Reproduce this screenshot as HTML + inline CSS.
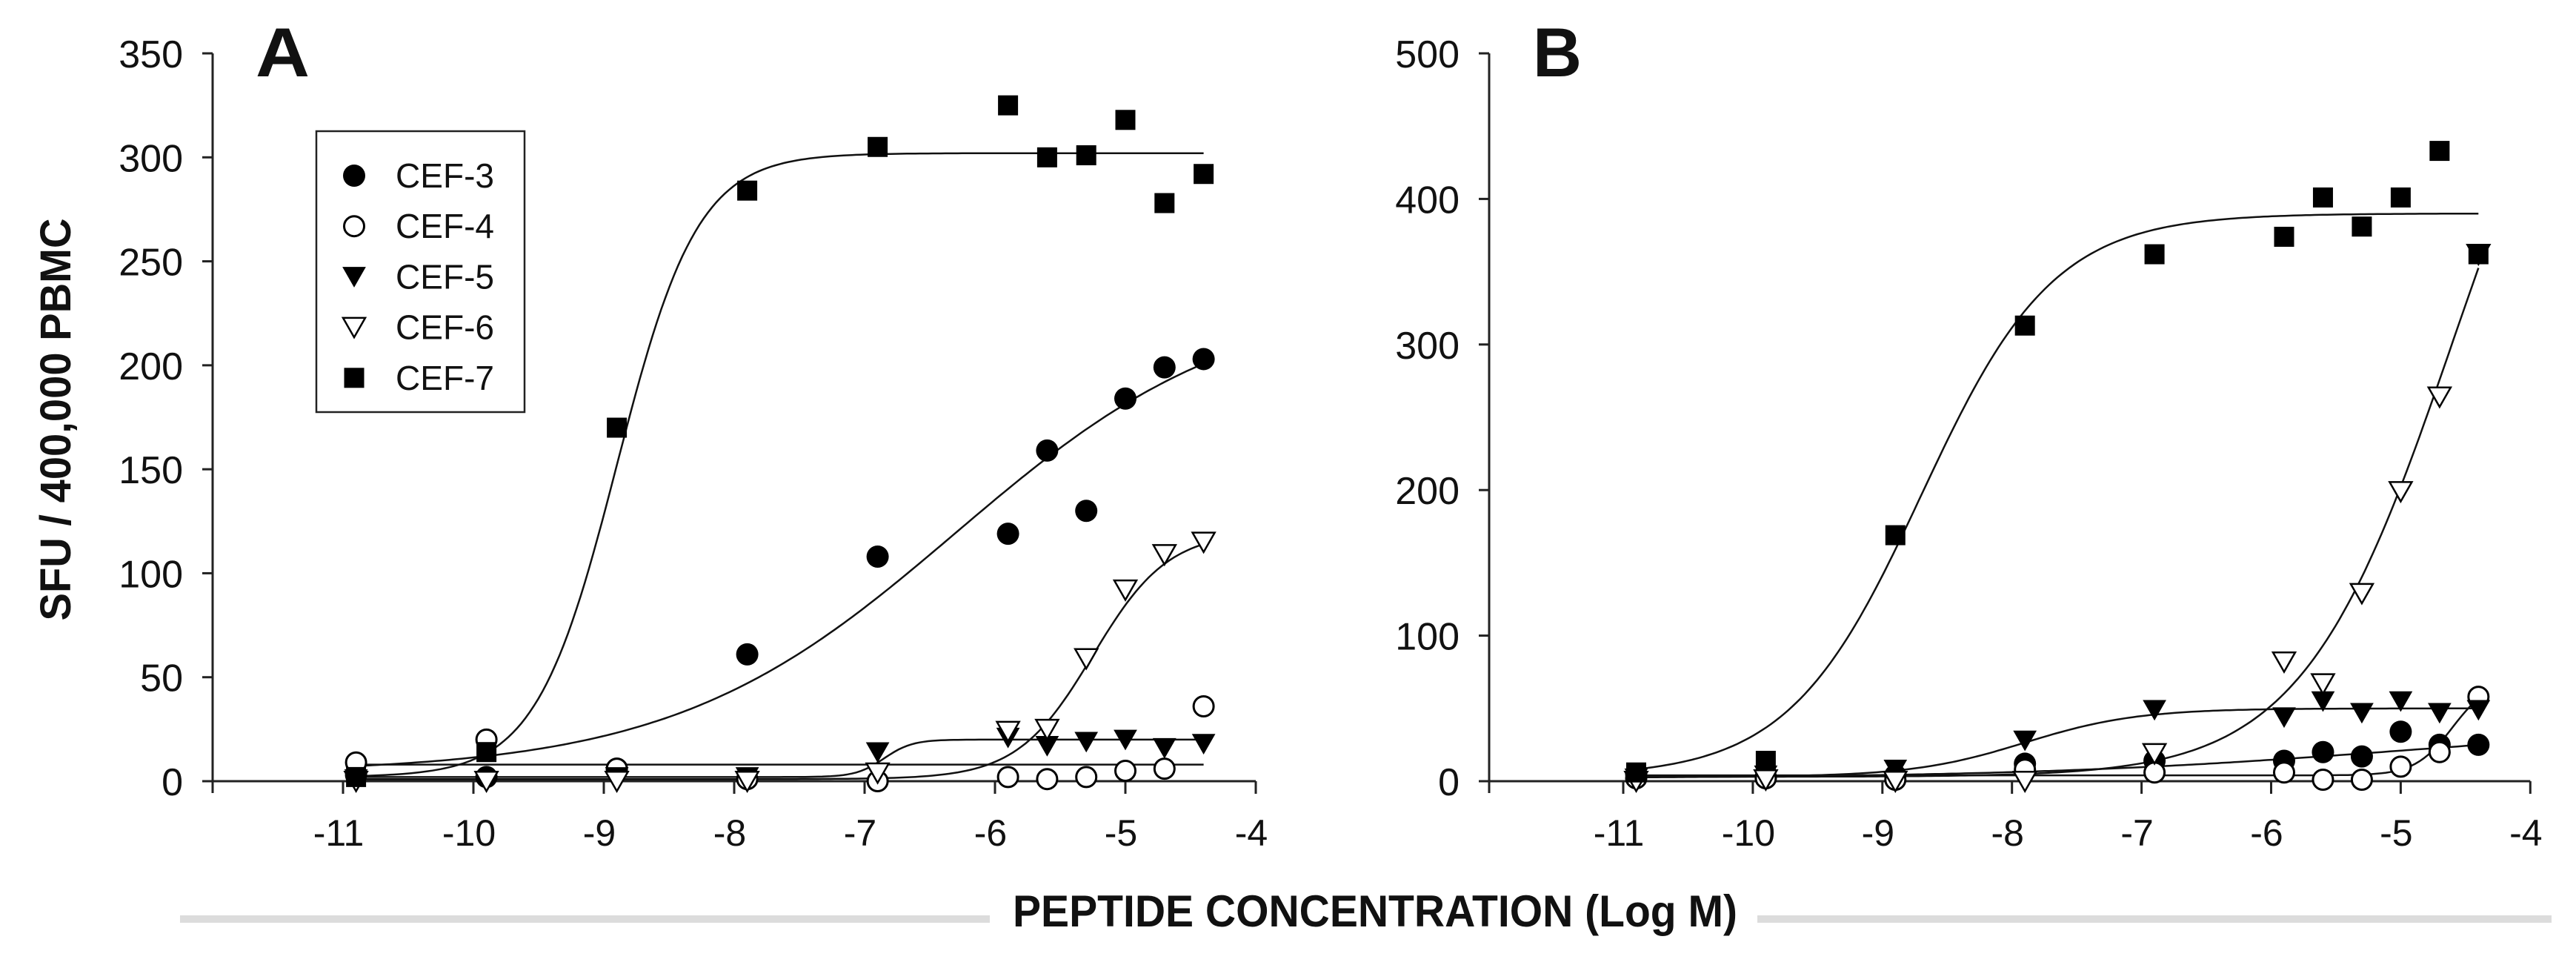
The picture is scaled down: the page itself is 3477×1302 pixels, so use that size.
<!DOCTYPE html>
<html><head><meta charset="utf-8"><style>
html,body{margin:0;padding:0;background:#fff;}
svg{display:block;}
text{font-family:"Liberation Sans",Arial,sans-serif;fill:#111;}
</style></head><body>
<svg id="chart" width="3477" height="1302" viewBox="0 0 3477 1302" xmlns="http://www.w3.org/2000/svg">
<g id="root"></g>
</svg>
<script>
// ---- shared data ----
const logConc = [-10.9, -9.9, -8.9, -7.9, -6.9, -5.9, -5.6, -5.3, -5.0, -4.7, -4.4];
const seriesNames = ["CEF-3", "CEF-4", "CEF-5", "CEF-6", "CEF-7"];
const xTicks = [-11, -10, -9, -8, -7, -6, -5, -4];
// Panel A values
const aCef3 = [3, 2, 6, 61, 108, 119, 159, 130, 184, 199, 203];
const aCef4 = [9, 20, 6, 1, 0, 2, 1, 2, 5, 6, 36];
const aCef5 = [1, 0, 2, 2, 14, 21, 17, 19, 20, 16, 18];
const aCef6 = [0, 0, 0, 0, 4, 24, 25, 59, 92, 109, 115];
const aCef7 = [2, 14, 170, 284, 305, 325, 300, 301, 318, 278, 292];
const aYTicks = [0, 50, 100, 150, 200, 250, 300, 350];
// Panel A fit params [bottom, top, logEC50, hill]
const aFit3 = [4, 235, -6.3, 0.4];
const aFit4 = [8, 8, -7, 1];
const aFit5 = [2, 20, -6.85, 4];
const aFit6 = [1, 120, -5.25, 1.5];
const aFit7 = [2, 302, -8.9, 1.4];
// Panel B values
const bCef3 = [5, 3, 4, 12, 14, 14, 20, 17, 34, 25, 25];
const bCef4 = [2, 2, 1, 8, 6, 6, 1, 1, 10, 20, 58];
const bCef5 = [2, 4, 8, 28, 49, 44, 55, 47, 55, 47, 49];
const bCef6 = [0, 1, 0, 0, 19, 82, 67, 129, 199, 264, 362];
const bCef7 = [6, 14, 169, 313, 362, 374, 401, 381, 401, 433, 362];
const bYTicks = [0, 100, 200, 300, 400, 500];
const bFit3 = [2, 40, -5, 0.3];
const bFit4 = [4, 70, -4.6, 3];
const bFit5 = [3, 50, -7.9, 1];
const bFit6 = [3, 600, -4.6, 0.75];
const bFit7 = [3, 390, -8.7, 0.85];

const NS = "http://www.w3.org/2000/svg";
const root = document.getElementById("root");
function mk(tag, attrs, parent) {
  const e = document.createElementNS(NS, tag);
  for (const k in attrs) e.setAttribute(k, attrs[k]);
  (parent || root).appendChild(e);
  return e;
}
const markerTypes = ["dot", "circle", "tri", "otri", "square"];
function drawMarker(g, type, cx, cy, s) {
  let m;
  if (type === "dot") m = mk("circle", {cx, cy, r: s * 0.5, fill: "#000"}, g);
  else if (type === "circle") m = mk("circle", {cx, cy, r: s * 0.45, fill: "#fff", stroke: "#000", "stroke-width": 3}, g);
  else if (type === "tri" || type === "otri") {
    const h = s * 0.5;
    m = mk("polygon", {points: `${cx - h},${cy - h * 0.85} ${cx + h},${cy - h * 0.85} ${cx},${cy + h * 0.9}`,
      fill: type === "tri" ? "#000" : "#fff", stroke: "#000", "stroke-width": type === "tri" ? 1 : 2.5}, g);
  } else m = mk("rect", {x: cx - s * 0.45, y: cy - s * 0.45, width: s * 0.9, height: s * 0.9, fill: "#000"}, g);
  return m;
}
function logistic(p, x) { return p[0] + (p[1] - p[0]) / (1 + Math.pow(10, (p[2] - x) * p[3])); }

function panel(cfg) {
  const g = mk("g", {});
  
  
  const x0 = cfg.axisX, x11 = cfg.tick11, dec = cfg.dec, y0 = 1054, yTop = 72;
  const ymax = cfg.yTicks[cfg.yTicks.length - 1];
  const sx = v => x11 + (v + 11) * dec;
  const sy = v => y0 - v / ymax * (y0 - yTop);
  const xEnd = sx(-4);
  const ax = mk("g", {}, g);
  
  
  mk("line", {x1: x0, y1: yTop, x2: x0, y2: y0 + 16, stroke: "#222", "stroke-width": 3}, ax);
  mk("line", {x1: x0 - 14, y1: y0, x2: xEnd, y2: y0, stroke: "#222", "stroke-width": 3}, ax);
  cfg.yTicks.forEach(t => {
    mk("line", {x1: x0 - 14, y1: sy(t), x2: x0, y2: sy(t), stroke: "#222", "stroke-width": 3}, ax);
    const tx = mk("text", {x: x0 - 40, y: sy(t) + 19, "text-anchor": "end", "font-size": 52}, ax);
    tx.textContent = t;
    
    
  });
  xTicks.forEach(t => {
    mk("line", {x1: sx(t), y1: y0, x2: sx(t), y2: y0 + 17, stroke: "#222", "stroke-width": 3}, ax);
    const tx = mk("text", {x: sx(t) - 6, y: 1141, "text-anchor": "middle", "font-size": 50}, ax);
    tx.textContent = t;
    
    
  });
  const lab = mk("text", {x: cfg.labelX, y: 103, "font-size": 94, "font-weight": "900", "textLength": cfg.labelW, lengthAdjust: "spacingAndGlyphs"}, g);
  lab.textContent = cfg.label;
  
  
  // curves
  cfg.fits.forEach((p, i) => {
    let d = "";
    for (let k = 0; k <= 200; k++) {
      const x = -10.9 + k * 6.5 / 200;
      d += (k ? "L" : "M") + sx(x).toFixed(1) + "," + sy(logistic(p, x)).toFixed(1);
    }
    const c = mk("path", {d, fill: "none", stroke: "#111", "stroke-width": 2.5}, g);
    
    
  });
  // points
  cfg.series.forEach((vals, i) => {
    const sg = mk("g", {}, g);
    
    
    vals.forEach((v, j) => {
      const m = drawMarker(sg, markerTypes[i], sx(logConc[j]), sy(v), 30);
      
      
    });
  });
}

panel({name: "panel-a", axisX: 287, tick11: 463, dec: 176, yTicks: aYTicks, label: "A", labelX: 345, labelW: 73,
  series: [aCef3, aCef4, aCef5, aCef6, aCef7], fits: [aFit3, aFit4, aFit5, aFit6, aFit7]});
panel({name: "panel-b", axisX: 2010, tick11: 2191, dec: 174.9, yTicks: bYTicks, label: "B", labelX: 2069, labelW: 66,
  series: [bCef3, bCef4, bCef5, bCef6, bCef7], fits: [bFit3, bFit4, bFit5, bFit6, bFit7]});

// legend
const lg = mk("g", {});


mk("rect", {x: 427, y: 177, width: 281, height: 379, fill: "#fff", stroke: "#222", "stroke-width": 2.5}, lg);
seriesNames.forEach((n, i) => {
  const yy = 237 + i * 68.2;
  const ent = mk("g", {}, lg);
  
  
  drawMarker(ent, markerTypes[i], 478, yy, 30);
  const t = mk("text", {x: 534, y: yy + 16, "font-size": 46, textLength: 133, lengthAdjust: "spacingAndGlyphs"}, ent);
  t.textContent = n;
});

// axis titles
const yt = mk("text", {x: 0, y: 0, "font-size": 58, "font-weight": "bold", "text-anchor": "middle", textLength: 543, lengthAdjust: "spacingAndGlyphs", transform: "translate(95,566) rotate(-90)"});
yt.textContent = "SFU / 400,000 PBMC";


mk("rect", {x: 243, y: 1235, width: 1093, height: 10, fill: "#dcdcdc"});
mk("rect", {x: 2372, y: 1235, width: 1072, height: 10, fill: "#dcdcdc"});
const xt = mk("text", {x: 1367, y: 1250, "font-size": 60, "font-weight": "bold", textLength: 978, lengthAdjust: "spacingAndGlyphs"});
xt.textContent = "PEPTIDE CONCENTRATION (Log M)";


</script>
</body></html>
